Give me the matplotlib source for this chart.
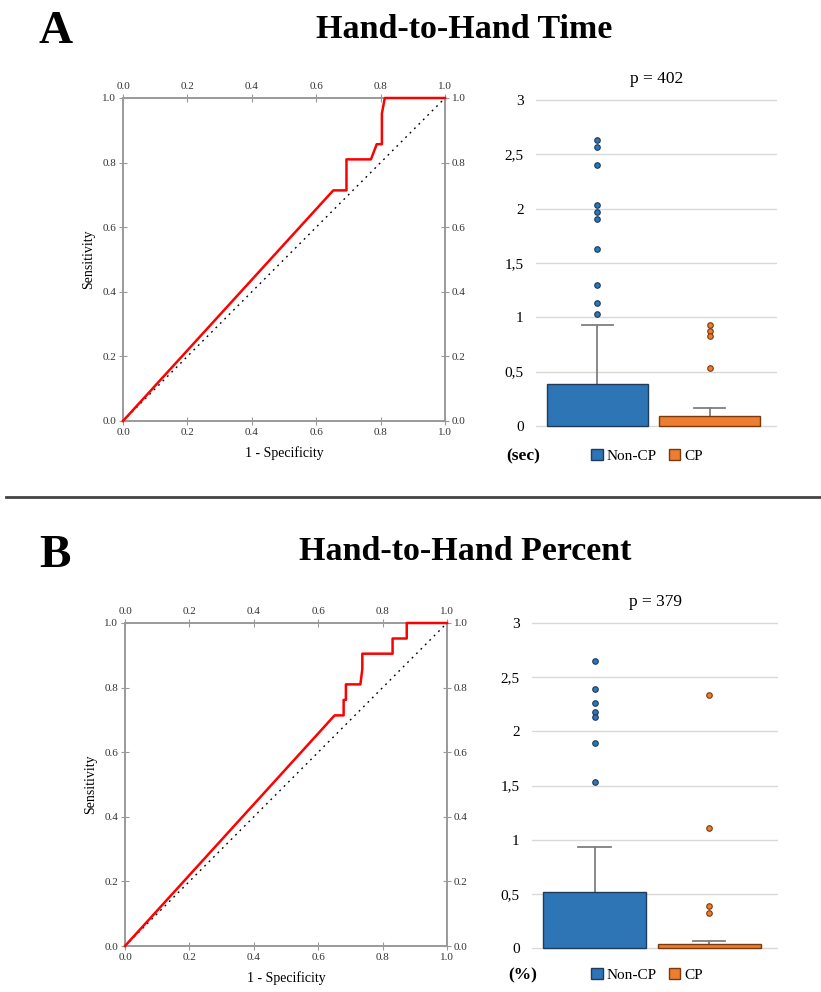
import matplotlib
matplotlib.use("Agg")
import matplotlib.pyplot as plt
from matplotlib.patches import Patch
from matplotlib.lines import Line2D

# ---------------- data ----------------
roc_a_fpr = [0.0, 0.653, 0.694, 0.694, 0.770, 0.788, 0.804, 0.804, 0.813, 1.0]
roc_a_tpr = [0.0, 0.714, 0.714, 0.810, 0.810, 0.857, 0.857, 0.952, 1.0, 1.0]

roc_b_fpr = [0.0, 0.651, 0.679, 0.679, 0.686, 0.686, 0.731, 0.737, 0.737, 0.831, 0.831, 0.875, 0.875, 1.0]
roc_b_tpr = [0.0, 0.714, 0.714, 0.762, 0.762, 0.810, 0.810, 0.857, 0.905, 0.905, 0.952, 0.952, 1.0, 1.0]

groups = ["Non-CP", "CP"]
a_bar = [0.384, 0.092]
a_whisker = [0.927, 0.169]
a_out_noncp = [2.632, 2.570, 2.401, 2.033, 1.971, 1.901, 1.630, 1.302, 1.130, 1.029]
a_out_cp = [0.927, 0.875, 0.829, 0.531]

b_bar = [0.514, 0.037]
b_whisker = [0.929, 0.068]
b_out_noncp = [2.649, 2.391, 2.262, 2.175, 2.129, 1.889, 1.529]
b_out_cp = [2.332, 1.111, 0.391, 0.320]

yticks_box = [0, 0.5, 1, 1.5, 2, 2.5, 3]
yticklabels_box = ["0", "0,5", "1", "1,5", "2", "2,5", "3"]
roc_ticks = [0.0, 0.2, 0.4, 0.6, 0.8, 1.0]

# ---------------- style ----------------
plt.rcParams['font.family'] = ['Liberation Serif', 'DejaVu Serif']
W, H = 821, 992
fig = plt.figure(figsize=(W / 100, H / 100), dpi=100)

def rect(x0, y0, x1, y1):
    return [x0 / W, 1 - y1 / H, (x1 - x0) / W, (y1 - y0) / H]

SPINE = "#9a9a9a"
BLUE = "#2E75B6"
ORANGE = "#ED7D31"
BLUE_E = "#1F3B5C"
ORANGE_E = "#7A3A0C"


def roc_panel(px, fpr, tpr):
    ax = fig.add_axes(rect(*px))
    ax.plot([0, 1], [0, 1], color="black", lw=1.0, ls=(0, (1.3, 3.2)), zorder=2)
    ax.plot(fpr, tpr, color="red", lw=1.8, zorder=3, clip_on=False)
    ax.set_xlim(0, 1)
    ax.set_ylim(0, 1)
    ax.set_xticks(roc_ticks)
    ax.set_yticks(roc_ticks)
    ax.set_xticklabels([f"{t:.1f}" for t in roc_ticks])
    ax.set_yticklabels([f"{t:.1f}" for t in roc_ticks])
    for s in ax.spines.values():
        s.set_color(SPINE)
        s.set_linewidth(1.4)
    ax.tick_params(axis="both", which="both", direction="inout", length=6, width=0.8,
                   color=SPINE, labelsize=8, labelcolor="#333333", pad=2,
                   top=True, right=True, labeltop=True, labelright=True)
    ax.set_xlabel("1 - Specificity", fontsize=10, labelpad=7)
    ax.set_ylabel("Sensitivity", fontsize=10, labelpad=5)
    return ax


def box_panel(px, bars, whisk, out_noncp, out_cp, ptext, unit, legend_y):
    x0, y3, x1, y0 = px
    m = 0.03 * (y0 - y3) / 3.0
    ax = fig.add_axes(rect(x0, y3 - m, x1, y0 + m))
    pos = [0, 1]
    ax.bar(pos, bars, width=0.9, color=[BLUE, ORANGE], edgecolor=[BLUE_E, ORANGE_E],
           linewidth=1.0, zorder=3)
    cap = 0.14
    for p, b, w in zip(pos, bars, whisk):
        ax.plot([p, p], [b, w], color="#7f7f7f", lw=1.3, zorder=2)
        ax.plot([p - cap, p + cap], [w, w], color="#7f7f7f", lw=1.3, zorder=2)
    ax.plot([0] * len(out_noncp), out_noncp, "o", ms=4, mfc=BLUE, mec=BLUE_E, mew=0.8, zorder=4)
    ax.plot([1] * len(out_cp), out_cp, "o", ms=4, mfc=ORANGE, mec=ORANGE_E, mew=0.8, zorder=4)
    ax.set_xlim(-0.545, 1.6)
    ax.set_ylim(-0.03, 3.03)
    ax.set_yticks(yticks_box)
    ax.set_yticklabels(yticklabels_box)
    ax.set_xticks([])
    ax.yaxis.grid(True, color="#d9d9d9", lw=1.0, zorder=0)
    ax.set_axisbelow(True)
    for s in ax.spines.values():
        s.set_visible(False)
    ax.tick_params(axis="y", length=0, labelsize=11, pad=9)
    ax.set_title(ptext, fontsize=12.5, pad=10)
    handles = [Patch(facecolor=BLUE, edgecolor=BLUE_E, label=groups[0]),
               Patch(facecolor=ORANGE, edgecolor=ORANGE_E, label=groups[1])]
    fig.legend(handles=handles, loc="center", bbox_to_anchor=(647 / W, 1 - legend_y / H),
               ncol=2, frameon=False, fontsize=11, handlelength=0.75, handleheight=0.75,
               handletextpad=0.25, columnspacing=0.8, borderpad=0)
    fig.text(523 / W, 1 - legend_y / H, unit, fontsize=12.5, fontweight="bold",
             ha="center", va="center")
    return ax


# Panel A
fig.text(56 / W, 1 - 32 / H, "A", fontsize=34, fontweight="bold", ha="center", va="center")
fig.text(464 / W, 1 - 29 / H, "Hand-to-Hand Time", fontsize=24.5, fontweight="bold",
         ha="center", va="center")
roc_panel((123, 98, 445, 421), roc_a_fpr, roc_a_tpr)
box_panel((536, 100, 777, 426), a_bar, a_whisker, a_out_noncp, a_out_cp, "p = 402", "(sec)", 456)

# separator
fig.add_artist(Line2D([6 / W, 1.0], [1 - 497 / H, 1 - 497 / H], color="#444444", lw=2.0))

# Panel B
fig.text(55 / W, 1 - 556 / H, "B", fontsize=34, fontweight="bold", ha="center", va="center")
fig.text(465 / W, 1 - 552 / H, "Hand-to-Hand Percent", fontsize=24.5, fontweight="bold",
         ha="center", va="center")
roc_panel((125, 623, 447, 946), roc_b_fpr, roc_b_tpr)
box_panel((532, 623, 778, 948), b_bar, b_whisker, b_out_noncp, b_out_cp, "p = 379", "(%)", 975)

fig.savefig("out.png", dpi=100)
